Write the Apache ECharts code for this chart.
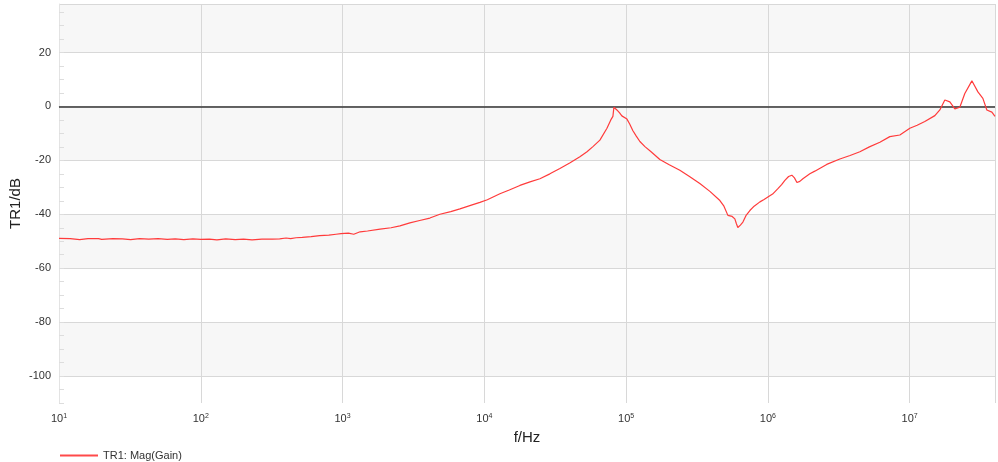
<!DOCTYPE html>
<html>
<head>
<meta charset="utf-8">
<script src="https://cdn.jsdelivr.net/npm/echarts@6/dist/echarts.min.js"></script>
<style>
html,body{margin:0;padding:0;background:#fff;}
#chart{width:998px;height:462px;}
</style>
</head>
<body>
<div id="chart"></div>
<script>
// Frequency (Hz) and magnitude (dB)
const freqHz = [
  10, 12, 14, 16, 19, 20, 24, 28, 32, 37, 43, 50, 58, 66, 76, 88,
  100, 115, 130, 150, 175, 200, 230, 270, 320, 360, 400, 430, 470, 520, 600, 690,
  800, 900, 975, 1100, 1200, 1330, 1500, 1840, 2200, 2540, 2985, 3500, 4130, 4860,
  5800, 6730, 8000, 9310, 10500, 12880, 15000, 17820, 21000, 24660, 29000, 34120,
  40000, 47210, 53000, 58340, 65350, 73280, 78000, 80720, 82040, 84000, 86100, 90000,
  93330, 101400, 106000, 111700, 118000, 125100, 135800, 150000, 173000, 200000,
  239400, 280000, 331100, 390000, 458800, 490000, 522400, 560000, 584800, 600000,
  614000, 640000, 666800, 700000, 746500, 800000, 878800, 940000, 1000000, 1080000,
  1177000, 1250000, 1318000, 1400000, 1476000, 1540000, 1603000, 1680000, 1766000,
  1977000, 2143000, 2600000, 3219000, 3800000, 4456000, 5200000, 6166000, 7248000,
  8531000, 10030000, 11300000, 12790000, 15060000, 16330000, 17710000, 19210000,
  20840000, 22590000, 24500000, 27480000, 30300000, 32850000, 35030000, 38020000, 40000000
];
const magDb = [
  -48.9, -49.0, -49.4, -49.0, -49.0, -49.3, -49.0, -49.1, -49.4, -49.0, -49.2, -49.0, -49.3, -49.1, -49.4, -49.1,
  -49.3, -49.2, -49.5, -49.1, -49.4, -49.2, -49.5, -49.2, -49.2, -49.1, -48.8, -49.0, -48.7, -48.6, -48.3, -47.9,
  -47.7, -47.4, -47.2, -47.0, -47.4, -46.5, -46.2, -45.5, -45.0, -44.3, -43.2, -42.3, -41.4, -40.0,
  -39.0, -38.0, -36.7, -35.6, -34.6, -32.4, -31.0, -29.3, -28.0, -26.8, -25.0, -23.0,
  -21.0, -18.7, -16.8, -14.9, -12.5, -8.1, -5.0, -3.7, -0.3, -0.8, -1.3, -2.4,
  -3.5, -4.7, -6.5, -9.0, -11.0, -13.0, -14.9, -16.8, -19.7, -21.5,
  -23.7, -26.0, -28.6, -31.5, -34.9, -37.0, -40.4, -40.8, -41.7, -43.5,
  -44.9, -44.0, -42.9, -40.5, -38.6, -37.0, -35.4, -34.5, -33.6, -32.5,
  -30.5, -29.0, -27.4, -26.0, -25.5, -26.5, -28.2, -27.8, -26.8,
  -25.0, -24.0, -21.5, -19.5, -18.2, -16.8, -15.0, -13.3, -11.2,
  -10.6, -8.1, -7.0, -5.6, -3.4, -1.3, 2.4, 1.7,
  -0.9, -0.3, 4.8, 9.5, 5.4, 3.0, -1.3, -2.1, -3.7
];
const seriesName = 'TR1: Mag(Gain)';
const yAxisTitle = 'TR1/dB';
const xAxisTitle = 'f/Hz';
const supDigits = {1:'1',2:'2',3:'3',4:'4',5:'5',6:'6',7:'7'};

const points = freqHz.map((f, i) => [f, magDb[i]]);
const chart = echarts.init(document.getElementById('chart'), null, {renderer: 'canvas'});
const FONT = '"Liberation Sans", Arial, sans-serif';
const W = '#ffffff', G = '#f7f7f7';

chart.setOption({
  animation: false,
  backgroundColor: '#ffffff',
  grid: {left: 59, right: 3, top: 4, bottom: 59, containLabel: false, outerBoundsMode: 'none'},
  legend: {
    left: 55, top: 445, itemWidth: 38, itemHeight: 12, itemGap: 10,
    textStyle: {fontFamily: FONT, fontSize: 11, color: '#333'},
    data: [{name: seriesName, icon: 'path://M0,5L38,5L38,7L0,7Z'}]
  },
  xAxis: {
    type: 'log', logBase: 10, min: 10, max: 4e7, interval: 1, splitNumber: 7,
    name: xAxisTitle, nameLocation: 'middle', nameGap: 27, nameMoveOverlap: false,
    nameTextStyle: {fontFamily: FONT, fontSize: 15, color: '#222'},
    axisLine: {show: true, lineStyle: {color: '#e3e3e3'}},
    axisTick: {show: false},
    splitLine: {show: true, lineStyle: {color: '#d8d8d8', width: 1}},
    axisLabel: {
      margin: 10, showMaxLabel: false,
      formatter: function (v) {
        const e = Math.round(Math.log10(v));
        if (Math.abs(Math.pow(10, e) - v) / v > 1e-6) return '';
        return '{b|10}{s|' + (supDigits[e] || e) + '}';
      },
      rich: {
        b: {fontFamily: FONT, fontSize: 11, color: '#333'},
        s: {fontFamily: FONT, fontSize: 7, color: '#333', verticalAlign: 'bottom', padding: [0, 0, 5, 0]}
      }
    }
  },
  yAxis: {
    type: 'value', min: -110, max: 38, interval: 5,
    name: yAxisTitle, nameLocation: 'middle', nameGap: 36, nameRotate: 90, nameMoveOverlap: false,
    nameTextStyle: {fontFamily: FONT, fontSize: 15, color: '#222'},
    axisLine: {show: true, lineStyle: {color: '#e3e3e3'}},
    axisTick: {show: true, inside: true, length: 5, lineStyle: {color: '#dddddd'}},
    axisLabel: {
      fontFamily: FONT, fontSize: 11, color: '#333', margin: 8, showMaxLabel: false,
      formatter: function (v) { return (v % 20 === 0) ? String(v) : ''; }
    },
    splitLine: {show: true, lineStyle: {color: ['rgba(0,0,0,0)', 'rgba(0,0,0,0)', '#d8d8d8', 'rgba(0,0,0,0)'], width: 1}},
    splitArea: {show: true, areaStyle: {color: [W, W, G, G, G, G, W, W]}}
  },
  series: [{
    name: seriesName,
    type: 'line',
    data: points,
    symbol: 'none',
    lineStyle: {color: '#ff3b3b', width: 1.2},
    itemStyle: {color: '#ff4a4a'},
    z: 3,
    markLine: {
      silent: true, symbol: 'none', animation: false,
      label: {show: false},
      lineStyle: {color: '#333333', width: 1.5, type: 'solid'},
      data: [{yAxis: 0}],
      z: 2
    }
  }]
});
</script>
</body>
</html>
